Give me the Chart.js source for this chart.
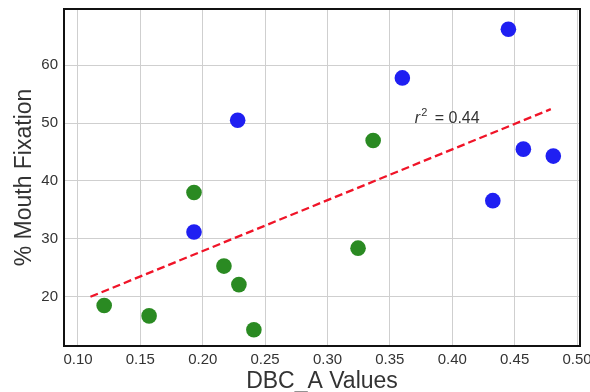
<!DOCTYPE html>
<html>
<head>
<meta charset="utf-8">
<script src="https://cdn.jsdelivr.net/npm/chart.js@4/dist/chart.umd.min.js"></script>
<style>
  html, body { margin: 0; padding: 0; background: #fff; }
  canvas { display: block; }
</style>
</head>
<body>
<canvas id="chart" width="590" height="392"></canvas>
<script>
// values
const blueX = [0.228, 0.193, 0.360, 0.445, 0.457, 0.481, 0.4325];
const blueY = [50.5, 31.2, 57.8, 66.2, 45.5, 44.3, 36.6];
const greenX = [0.121, 0.157, 0.193, 0.217, 0.229, 0.241, 0.3245, 0.3366];
const greenY = [18.5, 16.7, 38.0, 25.3, 22.1, 14.3, 28.4, 47.0];
const fitX = [0.11, 0.479];
const fitY = [20.0, 52.4];
const xTicks = [0.10, 0.15, 0.20, 0.25, 0.30, 0.35, 0.40, 0.45, 0.50];
const yTicks = [20, 30, 40, 50, 60];
const r2Label = '0.44';
const r2At = [0.37, 50];

const toPoints = (xs, ys) => xs.map((x, i) => ({ x: x, y: ys[i] }));
const FONT = "'Liberation Sans', Arial, sans-serif";

const framePlugin = {
  id: 'frame',
  afterDatasetsDraw(chart) {
    const { ctx, scales } = chart;
    // r^2 text
    const px = scales.x.getPixelForValue(r2At[0]);
    const py = scales.y.getPixelForValue(r2At[1]);
    ctx.save();
    ctx.fillStyle = '#333';
    ctx.textBaseline = 'alphabetic';
    ctx.font = 'italic 16px ' + FONT;
    ctx.fillText('r', px, py);
    let w = ctx.measureText('r').width;
    ctx.font = '11px ' + FONT;
    ctx.fillText('2', px + w + 1, py - 7);
    w += ctx.measureText('2').width + 1;
    ctx.font = '16px ' + FONT;
    ctx.fillText(' = ' + r2Label, px + w + 3, py);
    ctx.restore();
  },
  afterDraw(chart) {
    const { ctx, chartArea: a } = chart;
    ctx.save();
    ctx.strokeStyle = '#111';
    ctx.lineWidth = 2;
    ctx.strokeRect(a.left, a.top, a.right - a.left, a.bottom - a.top);
    ctx.restore();
  }
};

new Chart(document.getElementById('chart'), {
  type: 'scatter',
  data: {
    datasets: [
      {
        type: 'line',
        data: toPoints(fitX, fitY),
        borderColor: '#f01428',
        borderWidth: 2.3,
        borderDash: [8, 4],
        pointRadius: 0,
        fill: false,
        order: 3
      },
      {
        data: toPoints(blueX, blueY),
        backgroundColor: '#1f1ff2',
        borderWidth: 0,
        pointRadius: 7.8,
        order: 1
      },
      {
        data: toPoints(greenX, greenY),
        backgroundColor: '#2a8a22',
        borderWidth: 0,
        pointRadius: 7.8,
        order: 2
      }
    ]
  },
  options: {
    responsive: false,
    animation: false,
    devicePixelRatio: 1,
    layout: { autoPadding: false, padding: { top: 9, right: 10, left: 0, bottom: 0 } },
    plugins: { legend: { display: false }, tooltip: { enabled: false } },
    scales: {
      x: {
        type: 'linear',
        min: 0.0888,
        max: 0.5024,
        afterBuildTicks: s => { s.ticks = xTicks.map(v => ({ value: v })); },
        afterFit: s => { s.height = 46; s.paddingLeft = 0; s.paddingRight = 0; },
        grid: { color: '#cfcfcf', lineWidth: 1, drawTicks: false },
        border: { display: false },
        ticks: {
          padding: 5,
          color: '#333',
          font: { family: FONT, size: 15 },
          callback: v => v.toFixed(2),
          maxRotation: 0
        },
        title: {
          display: true,
          text: 'DBC_A Values',
          color: '#333',
          font: { family: FONT, size: 23, lineHeight: 0.9 },
          padding: { top: 0, bottom: 0 }
        }
      },
      y: {
        type: 'linear',
        min: 11.5,
        max: 69.7,
        afterBuildTicks: s => { s.ticks = yTicks.map(v => ({ value: v })); },
        afterFit: s => { s.width = 64; s.paddingTop = 0; s.paddingBottom = 0; },
        grid: { color: '#cfcfcf', lineWidth: 1, drawTicks: false },
        border: { display: false },
        ticks: {
          padding: 6,
          color: '#333',
          font: { family: FONT, size: 15 },
          callback: v => String(v)
        },
        title: {
          display: true,
          text: '% Mouth Fixation',
          color: '#333',
          font: { family: FONT, size: 23, lineHeight: 1 },
          padding: { top: 13, bottom: 0 }
        }
      }
    }
  },
  plugins: [framePlugin]
});
</script>
</body>
</html>
